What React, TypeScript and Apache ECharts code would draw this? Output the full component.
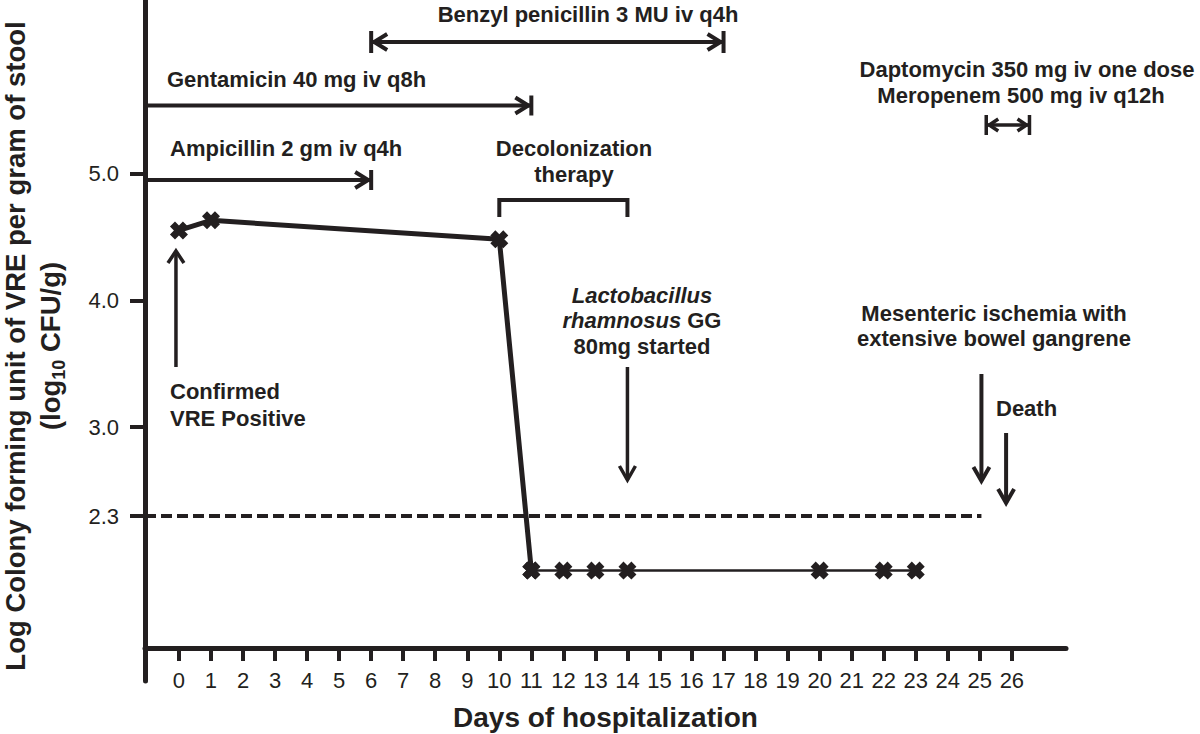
import React, { useEffect, useRef } from "react";
import * as echarts from "echarts";

// ---------- data ----------
const earlyDays = [0, 1, 10, 11];
const earlyLogCfu = [4.55, 4.63, 4.48, 1.87];
const lateDays = [11, 12, 13, 14, 20, 22, 23];
const lateLogCfu = [1.87, 1.87, 1.87, 1.87, 1.87, 1.87, 1.87];
const detectionLimit = 2.3;
const detectionLineEndDay = 25.05;

const dayTicks = [0, 1, 2, 3, 4, 5, 6, 7, 8, 9, 10, 11, 12, 13, 14, 15, 16, 17, 18, 19, 20, 21, 22, 23, 24, 25, 26];
const dayTickLabels = ["0", "1", "2", "3", "4", "5", "6", "7", "8", "9", "10", "11", "12", "13", "14", "15", "16", "17", "18", "19", "20", "21", "22", "23", "24", "25", "26"];
const logTicks = [5.0, 4.0, 3.0, 2.3];
const logTickLabels = ["5.0", "4.0", "3.0", "2.3"];

const X_MIN = -1.06;
const X_MAX = 27.69;
const Y_MIN = 1.0;
const Y_MAX = 6.366;

const xTitle = "Days of hospitalization";
const yTitle1 = "Log Colony forming unit of VRE per gram of stool";

// treatment periods (days)
const benzylDays = [6, 17];
const gentamicinEndDay = 11;
const ampicillinEndDay = 6;
const decolonizationDays = [10, 14];
const daptoDays = [25.2, 26.55];
const confirmedDay = 0;
const lactoDay = 14;
const ischemiaDay = 25.05;
const deathDay = 25.82;

const INK = "#231f20";
const FONT = '"Liberation Sans", Arial, Helvetica, sans-serif';
const ANN = 22;
const MARKER = "path://M0,2.8L2.8,0L5,2.2L7.2,0L10,2.8L7.8,5L10,7.2L7.2,10L5,7.8L2.8,10L0,7.2L2.2,5Z";

function buildGraphics(chart: any) {
  const px = (d: number) => chart.convertToPixel({ xAxisIndex: 0 }, d) as number;
  const els: any[] = [];
  const line = (x1: number, y1: number, x2: number, y2: number, w = 4) =>
    els.push({ type: "line", silent: true, shape: { x1, y1, x2, y2 }, style: { stroke: INK, lineWidth: w } });
  const poly = (points: number[][], w = 4) =>
    els.push({ type: "polyline", silent: true, shape: { points }, style: { stroke: INK, fill: "none", lineWidth: w, lineJoin: "miter" } });
  const headR = (x: number, y: number, l = 13, h = 8, w = 4) => poly([[x - l, y - h], [x, y], [x - l, y + h]], w);
  const headL = (x: number, y: number, l = 13, h = 8, w = 4) => poly([[x + l, y - h], [x, y], [x + l, y + h]], w);
  const headD = (x: number, y: number, l = 14, h = 8, w = 4) => poly([[x - h, y - l], [x, y], [x + h, y - l]], w);
  const headU = (x: number, y: number, l = 14, h = 8, w = 4) => poly([[x - h, y + l], [x, y], [x + h, y + l]], w);
  const text = (x: number, y: number, t: string, align = "center", lh = 26, extra: any = {}) =>
    els.push({
      type: "text",
      silent: true,
      x,
      y,
      style: {
        text: t,
        align,
        verticalAlign: "middle",
        fontSize: ANN,
        fontWeight: "bold",
        fontFamily: FONT,
        fill: INK,
        lineHeight: lh,
        ...extra,
      },
    });

  const axisX = px(X_MIN);

  // Benzyl penicillin
  text(588, 14, "Benzyl penicillin 3 MU iv q4h");
  {
    const a = px(benzylDays[0]);
    const b = px(benzylDays[1]);
    const y = 42;
    line(a, y, b, y);
    line(a, y - 11, a, y + 11);
    line(b, y - 11, b, y + 11);
    headL(a + 3, y);
    headR(b - 3, y);
  }
  // Gentamicin
  text(167, 79, "Gentamicin 40 mg iv q8h", "left");
  {
    const b = px(gentamicinEndDay);
    const y = 105.5;
    line(axisX, y, b, y);
    line(b, y - 10, b, y + 10);
    headR(b - 3, y);
  }
  // Ampicillin
  text(170, 148, "Ampicillin 2 gm iv q4h", "left");
  {
    const b = px(ampicillinEndDay);
    const y = 180;
    line(axisX, y, b, y);
    line(b, y - 10, b, y + 10);
    headR(b - 3, y);
  }
  // Decolonization therapy
  text(574, 161, "Decolonization\ntherapy");
  {
    const a = px(decolonizationDays[0]);
    const b = px(decolonizationDays[1]);
    poly([[a, 217], [a, 200], [b, 200], [b, 217]], 4);
  }
  // Daptomycin / Meropenem
  text(1027, 69, "Daptomycin 350 mg iv one dose");
  text(1021, 95, "Meropenem 500 mg iv q12h");
  {
    const a = px(daptoDays[0]);
    const b = px(daptoDays[1]);
    const y = 125;
    line(a, y, b, y, 3.5);
    line(a, y - 10, a, y + 10, 3.5);
    line(b, y - 10, b, y + 10, 3.5);
    headL(a + 3, y, 9, 6, 3.5);
    headR(b - 3, y, 9, 6, 3.5);
  }
  // Confirmed VRE positive
  text(170, 404.5, "Confirmed\nVRE Positive", "left", 27);
  {
    const x = px(confirmedDay) - 3;
    line(x, 367, x, 251, 3.5);
    headU(x, 251, 12, 8, 3.5);
  }
  // Lactobacillus
  els.push({
    type: "text",
    silent: true,
    x: 642,
    y: 320.5,
    style: {
      text: "{i|Lactobacillus}\n{i|rhamnosus}{n| GG}\n{n|80mg started}",
      align: "center",
      verticalAlign: "middle",
      fontSize: ANN,
      fontWeight: "bold",
      fontFamily: FONT,
      fill: INK,
      lineHeight: 25.5,
      rich: {
        i: { fontSize: ANN, fontWeight: "bold", fontStyle: "italic", fontFamily: FONT, fill: INK, lineHeight: 25.5 },
        n: { fontSize: ANN, fontWeight: "bold", fontFamily: FONT, fill: INK, lineHeight: 25.5 },
      },
    },
  });
  {
    const x = px(lactoDay);
    line(x, 367, x, 480, 3.5);
    headD(x, 480, 14, 8, 3.5);
  }
  // Mesenteric ischemia
  text(994, 326, "Mesenteric ischemia with\nextensive bowel gangrene", "center", 25);
  {
    const x = px(ischemiaDay);
    line(x, 374, x, 481, 4);
    headD(x, 481, 14, 8, 4);
  }
  // Death
  text(996, 408, "Death", "left");
  {
    const x = px(deathDay);
    line(x, 433, x, 503, 4);
    headD(x, 503, 14, 8, 4);
  }
  // Y axis title
  els.push({
    type: "text",
    silent: true,
    x: 33,
    y: 346,
    rotation: Math.PI / 2,
    style: {
      text: "{t|" + yTitle1 + "}\n{t|(log}{s|10}{t| CFU/g)}",
      align: "center",
      verticalAlign: "middle",
      fontSize: 27.5,
      fontWeight: "bold",
      fontFamily: FONT,
      fill: INK,
      lineHeight: 35,
      rich: {
        t: { fontSize: 27.5, fontWeight: "bold", fontFamily: FONT, fill: INK, lineHeight: 35 },
        s: { fontSize: 18, fontWeight: "bold", fontFamily: FONT, fill: INK, lineHeight: 14, verticalAlign: "bottom" },
      },
    },
  });
  return els;
}

export default function App() {
  const ref = useRef<HTMLDivElement>(null);
  useEffect(() => {
    if (!ref.current) return;
    const chart = echarts.init(ref.current, null, { renderer: "svg" });
    const option: any = {
      animation: false,
      backgroundColor: "#ffffff",
      grid: [
        { left: 145, right: 134, top: 0, bottom: 53, containLabel: false, outerBoundsMode: "none" },
        { left: 145, right: 134, top: 0, bottom: 86, containLabel: false, outerBoundsMode: "none" },
      ],
      xAxis: [
        { type: "value", gridIndex: 0, min: X_MIN, max: X_MAX, show: false },
        {
          type: "value",
          gridIndex: 1,
          min: X_MIN,
          max: X_MAX,
          axisLine: { show: true, onZero: false, lineStyle: { color: INK, width: 5 } },
          axisTick: { show: true, customValues: dayTicks, length: 13, inside: false, lineStyle: { color: INK, width: 4 } },
          axisLabel: {
            show: true,
            customValues: dayTicks,
            formatter: (v: number) => {
              const i = dayTicks.indexOf(Math.round(v));
              return i >= 0 ? dayTickLabels[i] : "";
            },
            margin: 21,
            fontSize: 22,
            color: INK,
            fontFamily: FONT,
          },
          splitLine: { show: false },
          name: xTitle,
          nameLocation: "middle",
          nameGap: 55,
          nameTextStyle: { fontSize: 28, fontWeight: "bold", color: INK, fontFamily: FONT },
        },
      ],
      yAxis: [
        {
          type: "value",
          gridIndex: 0,
          min: Y_MIN,
          max: Y_MAX,
          axisLine: { show: true, onZero: false, lineStyle: { color: INK, width: 5 } },
          axisTick: { show: true, customValues: logTicks, length: 15, inside: false, lineStyle: { color: INK, width: 4 } },
          axisLabel: {
            show: true,
            customValues: logTicks,
            formatter: (v: number) => {
              const i = logTicks.findIndex((t) => Math.abs(t - v) < 1e-6);
              return i >= 0 ? logTickLabels[i] : "";
            },
            margin: 26,
            fontSize: 22,
            color: INK,
            fontFamily: FONT,
          },
          splitLine: { show: false },
        },
        { type: "value", gridIndex: 1, min: 0, max: 1, show: false },
      ],
      series: [
        {
          name: "Detection limit",
          type: "line",
          xAxisIndex: 0,
          yAxisIndex: 0,
          data: [[X_MIN, detectionLimit], [detectionLineEndDay, detectionLimit]],
          showSymbol: false,
          symbol: "none",
          lineStyle: { color: INK, width: 4, type: [11, 5] },
          z: 1,
          silent: true,
        },
        {
          name: "VRE early",
          type: "line",
          xAxisIndex: 0,
          yAxisIndex: 0,
          data: earlyDays.map((d, i) => [d, earlyLogCfu[i]]),
          symbol: MARKER,
          symbolSize: 18,
          showAllSymbol: true,
          itemStyle: { color: INK },
          lineStyle: { color: INK, width: 5 },
          z: 3,
        },
        {
          name: "VRE late",
          type: "line",
          xAxisIndex: 0,
          yAxisIndex: 0,
          data: lateDays.map((d, i) => [d, lateLogCfu[i]]),
          symbol: MARKER,
          symbolSize: 18,
          showAllSymbol: true,
          itemStyle: { color: INK },
          lineStyle: { color: INK, width: 2.5 },
          z: 3,
        },
      ],
    };
    chart.setOption(option);
    chart.setOption({ graphic: buildGraphics(chart) });
    return () => chart.dispose();
  }, []);
  return (
    <div
      ref={ref}
      style={{ position: "fixed", left: 0, top: 0, width: 1200, height: 734, background: "#fff" }}
    />
  );
}
